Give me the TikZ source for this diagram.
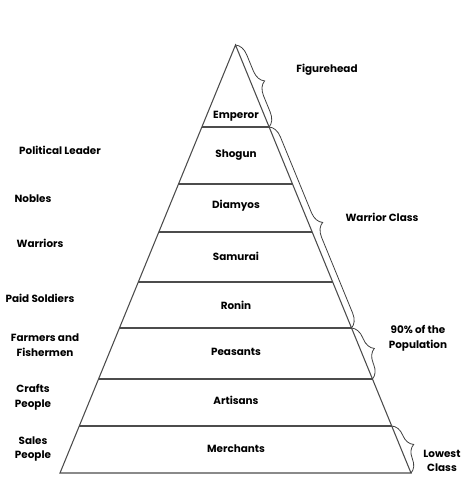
\documentclass[tikz,border=0pt]{standalone}
\usepackage{fontspec}
\setmainfont{Poppins}
\usetikzlibrary{positioning, decorations.pathreplacing}

\begin{document}
\begin{tikzpicture}[x=0.75pt, y=-0.75pt,
		line/.style={draw=black!70, line width=0.8pt},
		layer/.style={font=\bfseries\fontsize{7.8}{9}\selectfont},
		note/.style={font=\bfseries\fontsize{7.8}{11}\selectfont, align=center},
		bracket/.style={draw=black!75, line width=0.6pt,
			decorate, decoration={brace, amplitude=10pt}}]
		\useasboundingbox (0,0) rectangle (474,486);

		\def\Top{45}
		\def\Base{473}
		\def\Half{175.5}

		\coordinate (apex) at (235.5,\Top);
		\coordinate (left) at ({235.5-\Half},\Base);
		\coordinate (right) at ({235.5+\Half},\Base);

		% level lines
		\foreach \y/\name in {127/l1, 184/l2, 232/l3, 282/l4, 328/l5, 379/l6, 426/l7} {
			\pgfmathsetmacro{\w}{\Half*((\y-\Top)/(\Base-\Top))}
			\coordinate (\name-w) at ({235.5-\w},\y);
			\coordinate (\name-e) at ({235.5+\w},\y);
			\draw[line] (\name-w) -- (\name-e);
		}
		\draw[line] (left) -- (apex) -- (right) -- cycle;

		% ranks
		\node[layer] (emperor) at (236,116) {Emperor};
		\node[layer] (shogun) at (236,155) {Shogun};
		\node[layer] (diamyos) at (236,206) {Diamyos};
		\node[layer] (samurai) at (236,256) {Samurai};
		\node[layer] (ronin) at (236,305) {Ronin};
		\node[layer] (peasants) at (236,352) {Peasants};
		\node[layer] (artisans) at (236,400) {Artisans};
		\node[layer] (merchants) at (236,449) {Merchants};

		% roles
		\node[note] (leader) at (60,150) {Political Leader};
		\node[note] (nobles) at (33,199) {Nobles};
		\node[note] (warriors) at (40,243) {Warriors};
		\node[note] (paid) at (40,298) {Paid Soldiers};
		\node[note] (farmers) at (45,345) {Farmers and\\Fishermen};
		\node[note] (crafts) at (33,397) {Crafts\\People};
		\node[note] (sales) at (33,449) {Sales\\People};

		% groups
		\draw[bracket] (apex) -- (l1-e);
		\draw[bracket] (l1-e) -- (l5-e);
		\draw[bracket] (l5-e) -- (l6-e);
		\draw[bracket] (l7-e) -- (right);

		\node[note] (figure) at (327,70) {Figurehead};
		\node[note] (warrior) at (382,217) {Warrior Class};
		\node[note] (ninety) at (418,338) {90\% of the\\Population};
		\node[note] (lowest) at (442,461) {Lowest\\Class};
	\end{tikzpicture}
\end{document}
